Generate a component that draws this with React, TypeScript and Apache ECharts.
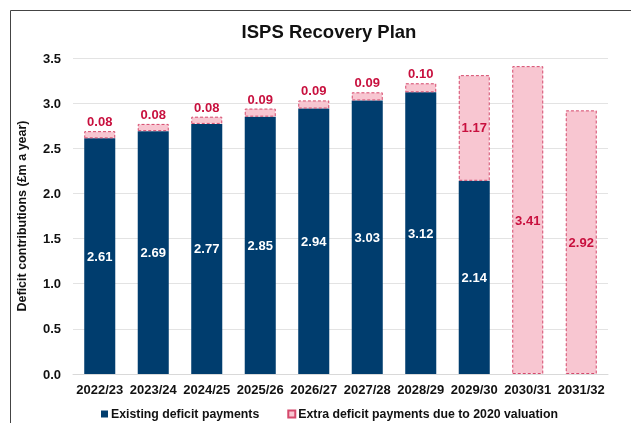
import React, { useEffect, useRef } from "react";
import * as echarts from "echarts";

const categories = ["2022/23", "2023/24", "2024/25", "2025/26", "2026/27", "2027/28", "2028/29", "2029/30", "2030/31", "2031/32"];
const existing = [2.61, 2.69, 2.77, 2.85, 2.94, 3.03, 3.12, 2.14, 0, 0];
const extra = [0.08, 0.08, 0.08, 0.09, 0.09, 0.09, 0.1, 1.17, 3.41, 2.92];
const yTicks = [0, 0.5, 1, 1.5, 2, 2.5, 3, 3.5];

const NAVY = "#003D6E";
const PINK = "#F8C6D1";
const CRIMSON = "#C8103E";
const FONT = "Liberation Sans, Arial, sans-serif";

export default function App() {
  const ref = useRef<HTMLDivElement>(null);
  useEffect(() => {
    const chart = echarts.init(ref.current!, null, { renderer: "svg" });
    chart.setOption({
      animation: false,
      textStyle: { fontFamily: FONT },
      title: {
        text: "ISPS Recovery Plan",
        left: 324,
        textAlign: "center",
        top: 17,
        textStyle: { fontSize: 18.5, fontWeight: "bold", color: "#111", fontFamily: FONT },
      },
      graphic: [
        {
          type: "rect",
          shape: { x: 10.5, y: 10.5, width: 700, height: 600 },
          style: { fill: "none", stroke: "#444", lineWidth: 1 },
          silent: true,
        },
      ],
      legend: {
        top: 403,
        left: 96,
        itemGap: 28,
        itemWidth: 7,
        itemHeight: 7,
        textStyle: { fontSize: 12.3, fontWeight: "bold", color: "#111", fontFamily: FONT, padding: [0, 0, 0, -2] },
        data: [
          { name: "Existing deficit payments", icon: "rect" },
          { name: "Extra deficit payments due to 2020 valuation", icon: "rect" },
        ],
      },
      grid: { left: 73, right: 23, top: 58, bottom: 49, containLabel: false },
      xAxis: {
        type: "category",
        data: categories,
        axisLine: { show: true, lineStyle: { color: "#d9d9d9" } },
        axisTick: { show: false },
        axisLabel: { interval: 0, fontSize: 13, fontWeight: "bold", color: "#111", margin: 9, fontFamily: FONT },
      },
      yAxis: {
        type: "value",
        min: yTicks[0],
        max: yTicks[yTicks.length - 1],
        interval: 0.5,
        name: "Deficit contributions (£m a year)",
        nameLocation: "middle",
        nameGap: 45,
        nameTextStyle: { fontSize: 12.5, fontWeight: "bold", color: "#111", fontFamily: FONT },
        axisLabel: {
          fontSize: 13,
          fontWeight: "bold",
          color: "#111",
          margin: 12,
          formatter: (v: number) => v.toFixed(1),
          fontFamily: FONT,
        },
        splitLine: { lineStyle: { color: "#e3e3e3" } },
      },
      series: [
        {
          name: "Existing deficit payments",
          type: "bar",
          stack: "total",
          barWidth: "58%",
          itemStyle: { color: NAVY },
          data: existing.map((v) => ({
            value: v,
            label: { show: v > 0 },
          })),
          label: {
            position: "inside",
            color: "#fff",
            fontWeight: "bold",
            fontSize: 13,
            fontFamily: FONT,
            formatter: (p: any) => p.value.toFixed(2),
          },
        },
        {
          name: "Extra deficit payments due to 2020 valuation",
          type: "bar",
          stack: "total",
          barWidth: "58%",
          itemStyle: {
            color: PINK,
            borderColor: "#D5496C",
            borderWidth: 1,
            borderType: [3, 2],
          },
          data: extra.map((v) => ({
            value: v,
            label: { position: v < 0.5 ? "top" : "inside", distance: 3 },
          })),
          label: {
            show: true,
            color: CRIMSON,
            fontWeight: "bold",
            fontSize: 13,
            fontFamily: FONT,
            formatter: (p: any) => p.value.toFixed(2),
          },
        },
      ],
    });
    return () => chart.dispose();
  }, []);
  return <div ref={ref} style={{ position: "fixed", left: 0, top: 0, width: 631, height: 423 }} />;
}
